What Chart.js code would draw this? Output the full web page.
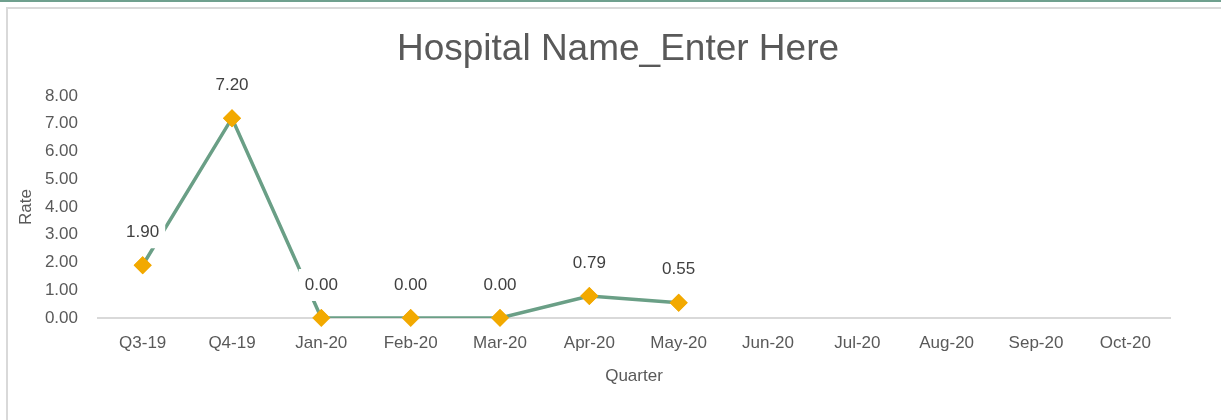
<!DOCTYPE html>
<html>
<head>
<meta charset="utf-8">
<script src="https://cdn.jsdelivr.net/npm/chart.js@4"></script>
<style>
  html,body{margin:0;padding:0;background:#fff;}
  body{width:1221px;height:420px;overflow:hidden;position:relative;}
  #topline{position:absolute;left:0;top:0;width:1221px;height:2px;background:#6FA08E;}
  #frame{position:absolute;left:6px;top:7px;width:1240px;height:440px;border:2px solid #d9d9d9;box-sizing:border-box;}
  #wrap{position:absolute;left:0;top:0;width:1221px;height:420px;}
</style>
</head>
<body>
<div id="topline"></div>
<div id="frame"></div>
<div id="wrap"><canvas id="c" width="1221" height="420"></canvas></div>
<script>
const chartTitle = "Hospital Name_Enter Here";
const categories = ["Q3-19","Q4-19","Jan-20","Feb-20","Mar-20","Apr-20","May-20","Jun-20","Jul-20","Aug-20","Sep-20","Oct-20"];
const rates = [1.90, 7.20, 0.00, 0.00, 0.00, 0.79, 0.55, null, null, null, null, null];
const yTickValues = [0,1,2,3,4,5,6,7,8];
const xAxisTitle = "Quarter";
const yAxisTitle = "Rate";

const FONT = "'Liberation Sans', Arial, sans-serif";
const TEXT = "#595959";

const labelPlugin = {
  id: 'valueLabels',
  afterDatasetsDraw(chart) {
    const ctx = chart.ctx;
    const meta = chart.getDatasetMeta(0);
    ctx.save();
    ctx.font = "17px " + FONT;
    ctx.textAlign = 'center';
    ctx.textBaseline = 'middle';
    meta.data.forEach((pt, i) => {
      const v = rates[i];
      if (v === null || v === undefined) return;
      const txt = v.toFixed(2);
      const x = pt.x, y = pt.y - 33;
      const w = ctx.measureText(txt).width + 12;
      const h = 32;
      ctx.fillStyle = '#fff';
      ctx.fillRect(x - w/2, y - h/2, w, h);
      ctx.fillStyle = '#404040';
      ctx.fillText(txt, x, y);
    });
    meta.data.forEach((pt, i) => {
      if (rates[i] === null) return;
      pt.draw(ctx, chart.chartArea);
    });
    ctx.restore();
  }
};

const titlePlugin = {
  id: 'bigTitle',
  afterDraw(chart) {
    const ctx = chart.ctx;
    ctx.save();
    ctx.font = "37px " + FONT;
    ctx.fillStyle = TEXT;
    ctx.textAlign = 'center';
    ctx.textBaseline = 'middle';
    ctx.fillText(chartTitle, 618, 50);
    ctx.restore();
  }
};

new Chart(document.getElementById('c'), {
  type: 'line',
  data: {
    labels: categories,
    datasets: [{
      data: rates,
      borderColor: '#6A9F86',
      borderWidth: 3.5,
      pointStyle: 'rectRot',
      pointRadius: 9,
      pointHoverRadius: 9,
      pointBackgroundColor: '#F2A900',
      pointBorderColor: '#F2A900',
      pointBorderWidth: 0,
      spanGaps: false,
      tension: 0
    }]
  },
  options: {
    responsive: false,
    animation: false,
    events: [],
    layout: { padding: { left: 0, right: 51, top: 96, bottom: 0 } },
    plugins: { legend: { display: false }, tooltip: { enabled: false }, title: { display: false } },
    scales: {
      x: {
        offset: true,
        grid: { display: false, drawTicks: false },
        border: { display: true, color: '#d9d9d9', width: 2 },
        ticks: { color: TEXT, font: { family: FONT, size: 17 }, padding: 15, maxRotation: 0, autoSkip: false },
        title: { display: true, text: xAxisTitle, color: TEXT, font: { family: FONT, size: 17 }, padding: { top: 0, bottom: 33 } },
        afterFit(s) { s.height = 102; }
      },
      y: {
        min: 0, max: 8,
        afterBuildTicks(s) { s.ticks = yTickValues.map(v => ({ value: v })); },
        grid: { display: false, drawTicks: false },
        border: { display: false },
        ticks: { color: TEXT, font: { family: FONT, size: 17 }, padding: 20, callback: v => Number(v).toFixed(2) },
        title: { display: true, text: yAxisTitle, color: TEXT, font: { family: FONT, size: 17 }, padding: { top: 16, bottom: 0 } },
        afterFit(s) { s.width = 98; }
      }
    }
  },
  plugins: [labelPlugin, titlePlugin]
});
</script>
</body>
</html>
